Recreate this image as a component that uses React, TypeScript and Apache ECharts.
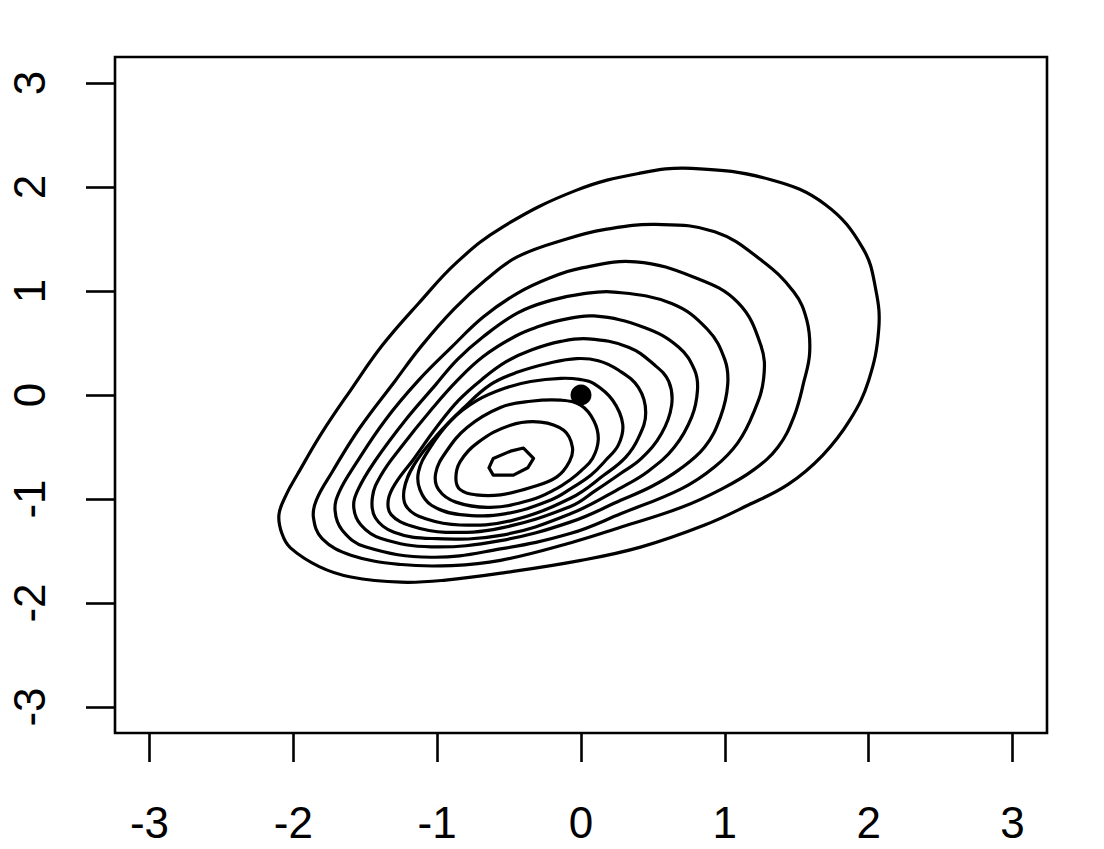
import React, { useEffect, useRef } from "react";
import * as echarts from "echarts";

const xTicks = [-3, -2, -1, 0, 1, 2, 3];
const yTicks = [-3, -2, -1, 0, 1, 2, 3];

const contour1: [number, number][] = [
  [0.77, 2.18], [0.40, 2.13], [-0.03, 1.97], [-0.54, 1.62], [-0.86, 1.28], [-1.13, 0.88],
  [-1.38, 0.48], [-1.6, 0.05], [-1.8, -0.36], [-1.97, -0.76], [-2.05, -0.96], [-2.1, -1.15],
  [-2.08, -1.33], [-2.02, -1.47], [-1.82, -1.65], [-1.6, -1.75], [-1.25, -1.8], [-0.94, -1.78],
  [-0.54, -1.71], [0, -1.59], [0.42, -1.46], [0.86, -1.25], [1.16, -1.06], [1.44, -0.86],
  [1.68, -0.58], [1.87, -0.24], [2.0, 0.14], [2.07, 0.63], [2.05, 1.01], [1.96, 1.41],
  [1.70, 1.83], [1.32, 2.07],
];
const contour2: [number, number][] = [
  [0.52, 1.64], [0.16, 1.59], [-0.1, 1.5], [-0.44, 1.33], [-0.66, 1.11], [-0.88, 0.83],
  [-1.11, 0.47], [-1.29, 0.14], [-1.54, -0.32], [-1.73, -0.74], [-1.84, -1.01], [-1.86, -1.18],
  [-1.8, -1.38], [-1.6, -1.54], [-1.25, -1.63], [-0.9, -1.64], [-0.56, -1.59], [-0.07, -1.42],
  [0.28, -1.27], [0.7, -1.08], [0.97, -0.91], [1.2, -0.72], [1.37, -0.5], [1.48, -0.21],
  [1.55, 0.13], [1.59, 0.41], [1.57, 0.72], [1.48, 0.99], [1.25, 1.3], [0.93, 1.57],
];
const contour3: [number, number][] = [
  [0.38, 1.28], [0, 1.22], [-0.21, 1.13], [-0.44, 0.98], [-0.68, 0.75], [-0.9, 0.46],
  [-1.13, 0.14], [-1.36, -0.24], [-1.57, -0.67], [-1.68, -0.93], [-1.71, -1.11], [-1.66, -1.3],
  [-1.5, -1.46], [-1.04, -1.56], [-0.56, -1.48], [-0.07, -1.33], [0.28, -1.14], [0.7, -0.9],
  [0.93, -0.69], [1.09, -0.46], [1.2, -0.17], [1.27, 0.16], [1.25, 0.48], [1.09, 0.89],
  [0.79, 1.13],
];
const contour4: [number, number][] = [
  [0.23, 0.99], [0, 0.97], [-0.21, 0.91], [-0.44, 0.79], [-0.68, 0.56], [-0.86, 0.34],
  [-1.01, 0.1], [-1.22, -0.24], [-1.43, -0.63], [-1.55, -0.91], [-1.58, -1.08], [-1.53, -1.25],
  [-1.39, -1.38], [-1.04, -1.46], [-0.56, -1.4], [-0.07, -1.22], [0.28, -1.01], [0.49, -0.88],
  [0.68, -0.72], [0.86, -0.5], [0.97, -0.21], [1.02, 0.1], [1.0, 0.34], [0.88, 0.63],
  [0.63, 0.88],
];
const contour5: [number, number][] = [
  [0.09, 0.76], [-0.14, 0.72], [-0.29, 0.66], [-0.45, 0.57], [-0.68, 0.37], [-0.86, 0.14],
  [-1.04, -0.14], [-1.25, -0.5], [-1.39, -0.77], [-1.45, -0.98], [-1.43, -1.18], [-1.3, -1.32],
  [-1.04, -1.38], [-0.56, -1.35], [-0.07, -1.14], [0.28, -0.89], [0.47, -0.73], [0.65, -0.5],
  [0.77, -0.21], [0.81, 0.05], [0.79, 0.24], [0.68, 0.46], [0.44, 0.65],
];
const contour6: [number, number][] = [
  [0.05, 0.54], [-0.14, 0.515], [-0.35, 0.43], [-0.52, 0.32], [-0.68, 0.16], [-0.85, -0.05],
  [-1.01, -0.32], [-1.16, -0.61], [-1.29, -0.85], [-1.34, -1.01], [-1.32, -1.15], [-1.18, -1.26],
  [-0.94, -1.32], [-0.56, -1.28], [-0.07, -1.07], [0.10, -0.92], [0.28, -0.75], [0.42, -0.61],
  [0.56, -0.37], [0.63, -0.1], [0.61, 0.13], [0.51, 0.29], [0.33, 0.46],
];
const contour7: [number, number][] = [
  [-0.03, 0.35], [-0.21, 0.31], [-0.44, 0.22], [-0.63, 0.1], [-0.82, -0.13], [-1.01, -0.4],
  [-1.16, -0.67], [-1.23, -0.91], [-1.21, -1.08], [-1.08, -1.19], [-0.84, -1.25], [-0.49, -1.21],
  [-0.07, -0.99], [0.16, -0.77], [0.31, -0.6], [0.4, -0.41], [0.45, -0.17], [0.4, 0.07],
  [0.26, 0.24], [0.12, 0.33],
];
const contour8: [number, number][] = [
  [-0.14, 0.16], [-0.35, 0.13], [-0.52, 0.07], [-0.72, -0.05], [-0.9, -0.24], [-1.06, -0.53],
  [-1.13, -0.74], [-1.12, -0.91], [-1.04, -1.06], [-0.84, -1.15], [-0.52, -1.14], [-0.21, -1.01],
  [-0.07, -0.9], [0.07, -0.77], [0.17, -0.63], [0.26, -0.48], [0.29, -0.28], [0.22, -0.05],
  [0.09, 0.11], [-0.01, 0.15],
];
const contour9: [number, number][] = [
  [-0.14, -0.05], [-0.35, -0.06], [-0.56, -0.12], [-0.79, -0.31], [-0.94, -0.55], [-1.01, -0.75],
  [-0.99, -0.91], [-0.87, -1.03], [-0.63, -1.08], [-0.35, -1.01], [-0.17, -0.9], [-0.07, -0.81],
  [0, -0.73], [0.08, -0.61], [0.12, -0.43], [0.09, -0.25], [0, -0.1],
];
const contour10: [number, number][] = [
  [-0.28, -0.26], [-0.49, -0.29], [-0.72, -0.46], [-0.84, -0.64], [-0.87, -0.8], [-0.84, -0.91],
  [-0.73, -0.96], [-0.56, -0.96], [-0.35, -0.89], [-0.17, -0.79], [-0.08, -0.64], [-0.06, -0.5],
  [-0.12, -0.34],
];
const contour11: [number, number][] = [
  [-0.61, -0.61], [-0.49, -0.54], [-0.4, -0.51], [-0.33, -0.61], [-0.37, -0.7], [-0.47, -0.77],
  [-0.61, -0.77], [-0.64, -0.7],
];

const markedPoint: [number, number][] = [[0, 0]];

const contours = [
  contour1, contour2, contour3, contour4, contour5, contour6,
  contour7, contour8, contour9, contour10, contour11,
];

const FONT = "'Liberation Sans', Arial, Helvetica, sans-serif";

export default function App() {
  const ref = useRef<HTMLDivElement>(null);
  useEffect(() => {
    if (!ref.current) return;
    const chart = echarts.init(ref.current, null, { renderer: "svg" });
    const option: any = {
      animation: false,
      backgroundColor: "#ffffff",
      grid: {
        left: 115,
        top: 57,
        width: 932,
        height: 676,
        show: true,
        borderColor: "#000",
        borderWidth: 2.6,
        backgroundColor: "transparent",
      },
      xAxis: {
        type: "value",
        min: -3.24,
        max: 3.24,
        splitLine: { show: false },
        axisLine: { show: false, onZero: false },
        axisTick: {
          show: true,
          customValues: xTicks,
          length: 29,
          inside: false,
          lineStyle: { color: "#000", width: 2.6 },
        },
        axisLabel: {
          customValues: xTicks,
          margin: 89,
          verticalAlign: "middle",
          align: "center",
          fontSize: 44,
          fontFamily: FONT,
          color: "#000",
          formatter: (v: number) => String(v),
        },
      },
      yAxis: {
        type: "value",
        min: -3.25,
        max: 3.25,
        splitLine: { show: false },
        axisLine: { show: false, onZero: false },
        axisTick: {
          show: true,
          customValues: yTicks,
          length: 29,
          inside: false,
          lineStyle: { color: "#000", width: 2.6 },
        },
        axisLabel: {
          customValues: yTicks,
          margin: 86,
          rotate: 90,
          verticalAlign: "middle",
          align: "center",
          fontSize: 44,
          fontFamily: FONT,
          color: "#000",
          formatter: (v: number) => String(v),
        },
      },
      series: [
        {
          type: "custom",
          coordinateSystem: "cartesian2d",
          data: contours.map((c) => c[0]),
          renderItem: (params: any, api: any) => {
            const idx = params.dataIndex;
            const pts = contours[idx].map((p) => api.coord(p));
            return {
              type: "polygon",
              shape: { points: pts, smooth: idx === contours.length - 1 ? 0 : 0.4 },
              style: { fill: "none", stroke: "#000", lineWidth: 3.2, lineJoin: "round" },
            };
          },
          silent: true,
        },
        {
          type: "scatter",
          data: markedPoint,
          symbol: "circle",
          symbolSize: 21,
          itemStyle: { color: "#000", opacity: 1 },
          z: 5,
        },
      ],
    };
    chart.setOption(option);
    return () => chart.dispose();
  }, []);
  return (
    <div
      ref={ref}
      style={{ position: "fixed", left: 0, top: 0, width: 1104, height: 849, background: "#fff" }}
    />
  );
}
